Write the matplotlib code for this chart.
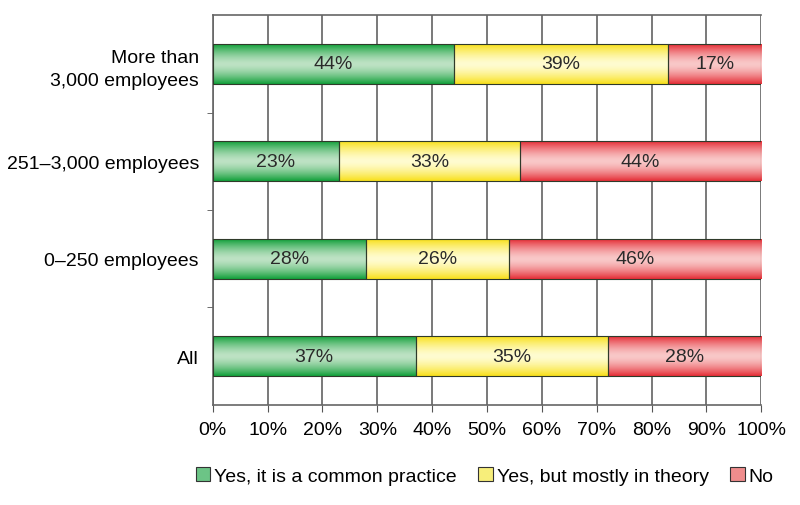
import matplotlib
matplotlib.use("Agg")
import matplotlib.pyplot as plt
import numpy as np
from matplotlib.colors import LinearSegmentedColormap
from matplotlib.patches import Patch

categories = ["All", "0\u2013250 employees", "251\u20133,000 employees", "More than\n3,000 employees"]
series = ["Yes, it is a common practice", "Yes, but mostly in theory", "No"]
common = [37, 28, 23, 44]
theory = [35, 26, 33, 39]
no = [28, 46, 44, 17]
values = [common, theory, no]

# (edge dark, middle light) for the shaded bars
shades = [("#12a03a", "#bde2c4"), ("#f8e01a", "#fffcd0"), ("#e52e36", "#f9c8c8")]
legend_colors = ["#6cc486", "#f7ee7a", "#ef8c8c"]

plt.rcParams['font.family'] = ['Liberation Sans', 'DejaVu Sans']

fig = plt.figure(figsize=(8, 5.06), dpi=100)
ax = fig.add_axes([0.266, 0.198, 0.6855, 0.770])

y = np.arange(len(categories))
bar_h = 0.41
left = np.zeros(len(categories))

grad = np.concatenate([np.linspace(0, 1, 50), np.linspace(1, 0, 50)])
grad = (1 - (1 - grad) ** 1.5).reshape(-1, 1)

for vals, (dark, light) in zip(values, shades):
    cmap = LinearSegmentedColormap.from_list("g", [dark, light])
    bars = ax.barh(y, vals, left=left, height=bar_h, color="none",
                   edgecolor="#2f3a2a", linewidth=0.8, zorder=4)
    for b, v in zip(bars, vals):
        x0, y0 = b.get_x(), b.get_y()
        im = ax.imshow(grad, cmap=cmap, aspect="auto", zorder=3,
                       extent=[x0, x0 + b.get_width(), y0, y0 + b.get_height()])
        im.set_clip_path(b)
        ax.text(x0 + b.get_width() / 2, y0 + b.get_height() / 2, f"{v}%",
                ha="center", va="center", fontsize=14, color="#2a2a2a", zorder=5)
    left = left + np.array(vals)

ax.set_xlim(0, 100)
ax.set_ylim(-0.5, len(categories) - 0.5)
ax.set_xticks(np.arange(0, 101, 10))
ax.set_xticklabels([f"{t}%" for t in range(0, 101, 10)], fontsize=14)
ax.set_yticks(y)
ax.set_yticklabels(categories, fontsize=14, linespacing=1.45)
ax.set_yticks(np.arange(-0.5, len(categories), 1)[1:-1], minor=True)
ax.tick_params(axis="y", which="major", length=0, pad=10)
ax.tick_params(axis="y", which="minor", length=4, color="#555555", direction="out")
ax.tick_params(axis="x", length=5, color="#555555", direction="out", pad=7)
ax.xaxis.grid(True, color="#555555", linewidth=1.1, zorder=0)
ax.set_axisbelow(True)
for s in ["left", "bottom", "top"]:
    ax.spines[s].set_color("#666666")
    ax.spines[s].set_linewidth(1.2)
ax.spines["right"].set_visible(False)

handles = [Patch(facecolor=c, edgecolor="#333333", linewidth=0.8) for c in legend_colors]
fig.legend(handles, series, loc="center", bbox_to_anchor=(0.606, 0.057), ncol=3,
           frameon=False, fontsize=14, handlelength=0.75, handleheight=0.75,
           handletextpad=0.2, columnspacing=1.1)

fig.savefig("out.png", dpi=100)
